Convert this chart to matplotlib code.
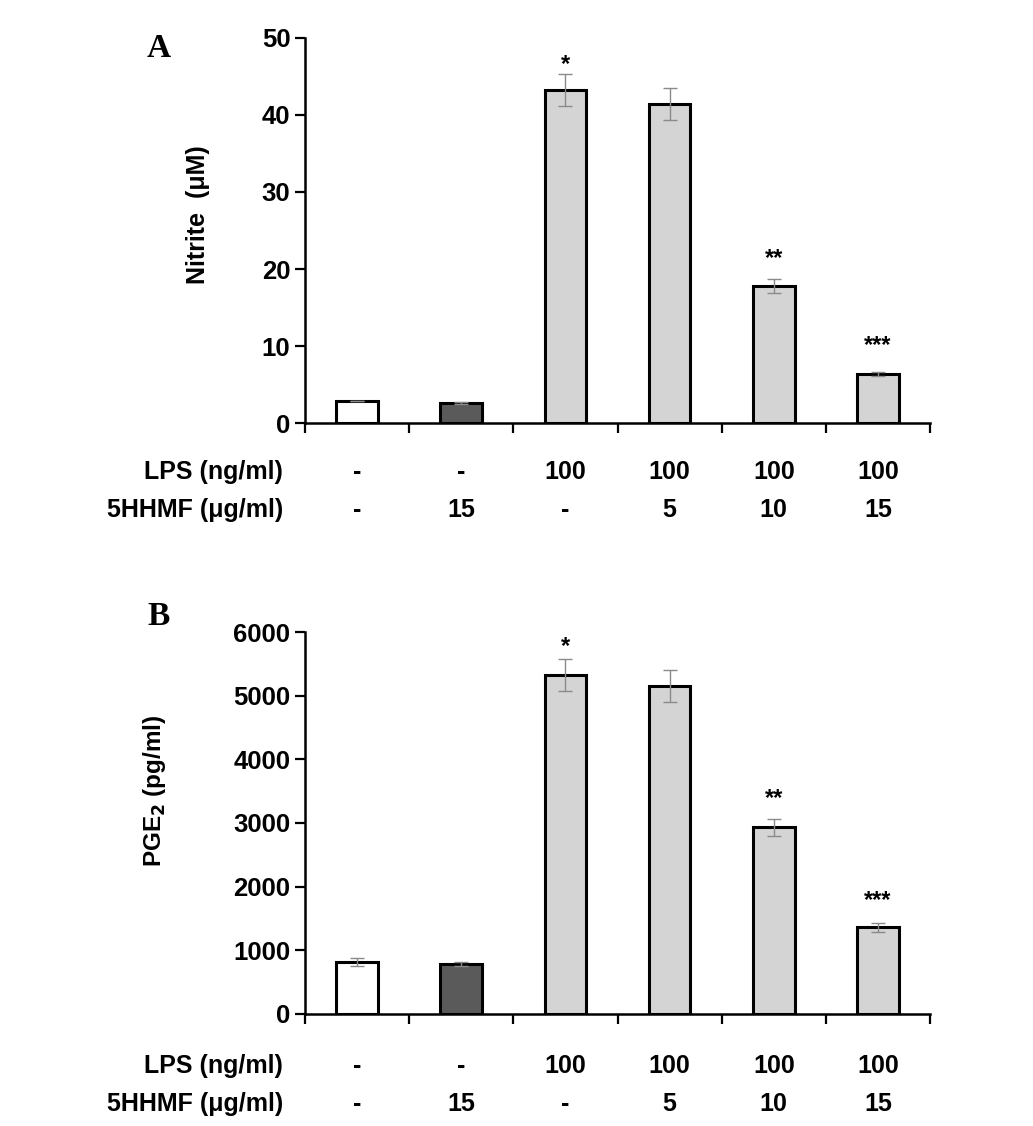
import matplotlib.pyplot as plt
import matplotlib.transforms as mtransforms
import numpy as np

plt.rcParams['font.family'] = ['Liberation Sans', 'DejaVu Sans']
plt.rcParams['font.weight'] = 'bold'

# groups (same for both panels)
lps = ['-', '-', '100', '100', '100', '100']
hhmf = ['-', '15', '-', '5', '10', '15']
bar_colors = ['#ffffff', '#5a5a5a', '#d4d4d4', '#d4d4d4', '#d4d4d4', '#d4d4d4']

# panel A: nitrite
nitrite = [2.8, 2.6, 43.2, 41.4, 17.8, 6.4]
nitrite_err = [0.0, 0.1, 2.1, 2.1, 0.9, 0.25]
nitrite_stars = ['', '', '*', '', '**', '***']
nitrite_star_y = [0, 0, 46.5, 0, 21.3, 10.1]

# panel B: PGE2
pge2 = [820, 790, 5325, 5150, 2930, 1360]
pge2_err = [60, 30, 250, 250, 130, 65]
pge2_stars = ['', '', '*', '', '**', '***']
pge2_star_y = [0, 0, 5765, 0, 3390, 1780]

fig = plt.figure(figsize=(10.33, 11.26), dpi=100)
axA = fig.add_axes([0.2953, 0.6243, 0.605, 0.342])
axB = fig.add_axes([0.2953, 0.0995, 0.605, 0.3392])

x = np.arange(len(lps))


def draw_panel(ax, vals, errs, stars, star_y, ymax, ystep, row_y):
    ax.bar(x, vals, width=0.4, color=bar_colors, edgecolor='black', linewidth=2.2, zorder=2)
    ax.errorbar(x, vals, yerr=errs, fmt='none', ecolor='#8a8a8a', elinewidth=1,
                capsize=5, capthick=1, zorder=3)
    for xi, s, sy in zip(x, stars, star_y):
        if s:
            ax.text(xi, sy, s, ha='center', va='center', fontsize=17, fontweight='bold')
    ax.set_xlim(-0.5, 5.5)
    ax.set_ylim(0, ymax)
    ax.set_yticks(np.arange(0, ymax + 1, ystep))
    ax.set_xticks(np.arange(-0.5, 6, 1))
    ax.set_xticklabels([])
    ax.tick_params(axis='both', direction='out', width=1.6, length=7, labelsize=18.5)
    for lab in ax.get_yticklabels():
        lab.set_fontweight('bold')
    ax.spines['top'].set_visible(False)
    ax.spines['right'].set_visible(False)
    ax.spines['left'].set_linewidth(1.8)
    ax.spines['bottom'].set_linewidth(1.8)
    trans = mtransforms.blended_transform_factory(ax.transData, ax.transAxes)
    for xi, a, b in zip(x, lps, hhmf):
        ax.text(xi, row_y[0], a, transform=trans, ha='center', va='center', fontsize=18)
        ax.text(xi, row_y[1], b, transform=trans, ha='center', va='center', fontsize=18)
    ax.text(-0.035, row_y[0], 'LPS (ng/ml)', transform=ax.transAxes, ha='right',
            va='center', fontsize=18)
    ax.text(-0.035, row_y[1], '5HHMF (\u03bcg/ml)', transform=ax.transAxes, ha='right',
            va='center', fontsize=18)


draw_panel(axA, nitrite, nitrite_err, nitrite_stars, nitrite_star_y, 50, 10, (-0.127, -0.226))
draw_panel(axB, pge2, pge2_err, pge2_stars, pge2_star_y, 6000, 1000, (-0.136, -0.236))

axA.set_ylabel('Nitrite  (\u03bcM)', fontsize=18, fontweight='bold')
axA.yaxis.set_label_coords(-0.152, 0.54)
axB.set_ylabel('PGE$_\\mathbf{2}$ (pg/ml)', fontsize=17.5, fontweight='bold')
axB.yaxis.set_label_coords(-0.219, 0.584)

fig.text(147 / 1033, 1 - 57 / 1126, 'A', fontsize=24, fontweight='bold',
         family='Liberation Serif', va='baseline')
fig.text(147 / 1033, 1 - 625 / 1126, 'B', fontsize=24, fontweight='bold',
         family='Liberation Serif', va='baseline')

fig.savefig('out.png', dpi=100)
